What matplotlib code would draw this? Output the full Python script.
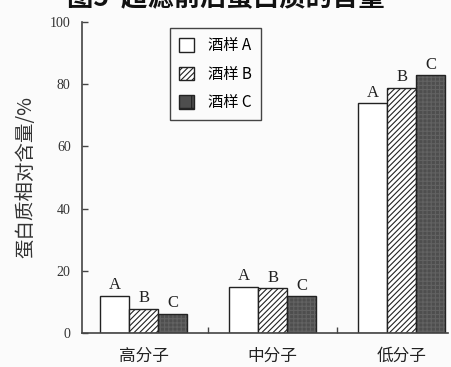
import numpy as np
import matplotlib.pyplot as plt

plt.rcParams['font.family'] = ['Noto Sans CJK SC', 'DejaVu Sans']
plt.rcParams['hatch.linewidth'] = 0.8

# 蛋白质相对含量 (%)
groups = ['高分子', '中分子', '低分子']
samples = ['酒样 A', '酒样 B', '酒样 C']
letters = ['A', 'B', 'C']
val_a = [11.9, 14.8, 73.8]
val_b = [7.8, 14.4, 78.8]
val_c = [6.2, 11.8, 82.8]
yticks = [0, 20, 40, 60, 80, 100]

fig = plt.figure(figsize=(4.52, 3.67), dpi=100, facecolor='#fbfbfb')
ax = fig.add_axes([0.181, 0.093, 0.81, 0.847])
ax.set_facecolor('#fbfbfb')

x = np.arange(len(groups))
w = 0.225
serif = 'Liberation Serif'
dark = '#4e4e4e'

series = [val_a, val_b, val_c]
for i, vals in enumerate(series):
    pos = x + (i - 1) * w
    if i == 0:
        ax.bar(pos, vals, w, facecolor='white', edgecolor='#222222',
               linewidth=1.0, label=samples[i])
    elif i == 1:
        ax.bar(pos, vals, w, facecolor='white', edgecolor='#222222',
               hatch='//////', linewidth=1.0, label=samples[i])
    else:
        # grainy dark fill, outline drawn on top
        ax.bar(pos, vals, w, facecolor=dark, edgecolor='#626262',
               hatch='++++', linewidth=0)
        ax.bar(pos, vals, w, facecolor='none', edgecolor='#222222',
               linewidth=1.0)
        ax.bar([np.nan], [np.nan], w, facecolor=dark, edgecolor='#222222',
               hatch='+', linewidth=1.0, label=samples[i])
    for p, v in zip(pos, vals):
        ax.text(p, v + 0.8, letters[i], ha='center', va='bottom',
                fontsize=12, family=serif, color='#222222')

ax.set_xlim(-0.48, 2.357)
ax.set_ylim(0, 100)
ax.set_yticks(yticks)
ax.set_yticklabels([str(t) for t in yticks], family=serif, fontsize=10,
                   color='#333333')
ax.set_xticks(x)
ax.set_xticklabels(groups, fontsize=12, color='#222222')
ax.set_xticks([0.5, 1.5], minor=True)
ax.tick_params(axis='x', which='major', length=0, pad=11)
ax.tick_params(axis='x', which='minor', direction='in', length=4,
               width=1.0, color='#444444')
ax.tick_params(axis='y', direction='in', length=4, width=1.0,
               color='#444444', pad=8)

for s in ['top', 'right']:
    ax.spines[s].set_visible(False)
for s in ['left', 'bottom']:
    ax.spines[s].set_linewidth(1.2)
    ax.spines[s].set_color('#444444')

ax.set_ylabel('蛋白质相对含量/%', fontsize=14, color='#333333', labelpad=10)

leg = ax.legend(loc='upper left', bbox_to_anchor=(0.22, 1.005), fontsize=11,
                frameon=True, fancybox=False, handlelength=1.0,
                handleheight=1.0, labelspacing=0.75, borderpad=0.6,
                handletextpad=0.9, edgecolor='#444444', framealpha=1)
leg.get_frame().set_linewidth(1.0)
leg.get_frame().set_facecolor('#fbfbfb')

fig.text(0.5, 1 - 11 / 367, '图5  超滤前后蛋白质的含量', ha='center',
         va='bottom', fontsize=19, fontweight='bold', color='#111111')

fig.savefig('out.png', dpi=100, facecolor=fig.get_facecolor())
